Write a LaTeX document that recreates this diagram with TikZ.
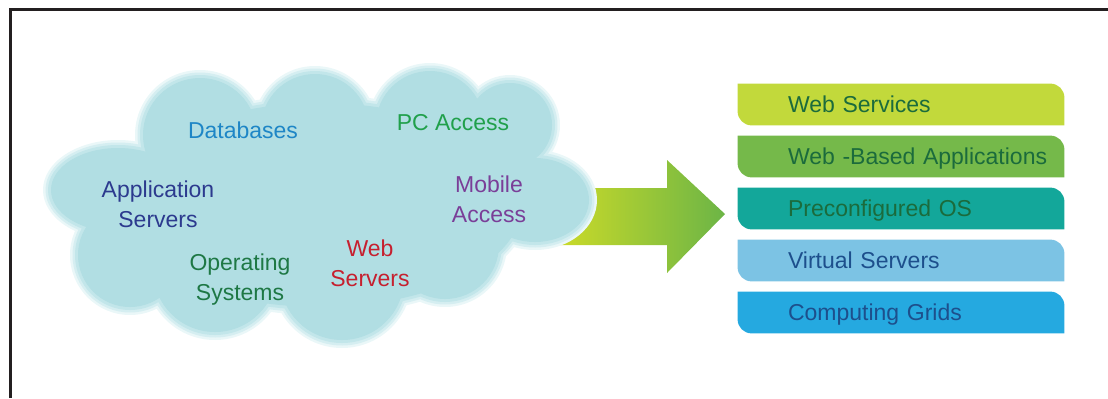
\documentclass[tikz,border=0pt]{standalone}
\usepackage{fontspec}
\setmainfont{Liberation Sans}
\usetikzlibrary{backgrounds}

\definecolor{framegray}{HTML}{231F20}
\definecolor{cloudmain}{HTML}{B1DEE3}
\definecolor{cloudsoft}{HTML}{C2E6EA}
\definecolor{cloudmid}{HTML}{D5EEF1}
\definecolor{cloudedge}{HTML}{EAF7F8}
\definecolor{arrowleft}{HTML}{CDDB28}
\definecolor{arrowright}{HTML}{6CB546}
\definecolor{bandA}{HTML}{C2D93B}
\definecolor{bandB}{HTML}{75B94A}
\definecolor{bandC}{HTML}{13A79A}
\definecolor{bandD}{HTML}{7CC3E4}
\definecolor{bandE}{HTML}{25A9E0}
\definecolor{txtdarkgreen}{HTML}{1B6B3C}
\definecolor{txtdarkblue}{HTML}{1D4F8C}
\definecolor{txtdb}{HTML}{1E86C6}
\definecolor{txtpc}{HTML}{20A04B}
\definecolor{txtapp}{HTML}{2C3A8E}
\definecolor{txtmob}{HTML}{7A3E98}
\definecolor{txtos}{HTML}{1E7845}
\definecolor{txtweb}{HTML}{C6202F}

% lobes of the cloud, #2 shrinks every lobe
\newcommand{\cloudlobes}[2]{%
\fill[#1] (118,208) ellipse ({75-#2} and {50-#2})
  (200,263) circle ({65-#2})
  (315,270) circle ({62-#2})
  (430,273) circle ({62-#2})
  (510,273) circle ({50-#2})
  (535,198) ellipse ({62-#2} and {50-#2})
  (445,153) circle ({62-#2})
  (342,120) circle ({70-#2})
  (215,128) circle ({70-#2})
  (130,143) circle ({60-#2})
  (320,193) ellipse ({210-#2} and {110-#2});}

\begin{document}
\begin{tikzpicture}[x=0.5pt,y=0.5pt,
  labelfont/.style={font=\fontsize{11.5}{15}\selectfont},
  cloudlabel/.style={labelfont, align=center, inner sep=0pt},
  band/.style={labelfont, minimum height=20.5pt, text width=138pt, inner xsep=0pt,
    inner ysep=0pt, align=left, text height=8.2pt, text depth=0pt}]
\useasboundingbox (0,0) rectangle (1108,398);

% frame
\draw[line width=1.5pt, framegray] (10,0) -- (10,388.5) -- (1108,388.5);

% arrow
\shade[left color=arrowleft, right color=arrowright]
  (555,210) -- (667,210) -- (667,238) -- (725,184) -- (667,125) -- (667,153) -- (555,153) -- cycle;

% cloud
\cloudlobes{cloudedge}{0}
\cloudlobes{cloudmid}{2.5}
\cloudlobes{cloudsoft}{5}
\cloudlobes{cloudmain}{8}

\node[cloudlabel, text=txtdb] (databases) at (243,268) {Databases};
\node[cloudlabel, text=txtpc] (pcaccess) at (453,275) {PC Access};
\node[cloudlabel, text=txtapp] (appservers) at (158,194) {Application\\Servers};
\node[cloudlabel, text=txtmob] (mobile) at (489,199) {Mobile\\Access};
\node[cloudlabel, text=txtos] (opsys) at (240,118) {Operating\\Systems};
\node[cloudlabel, text=txtweb] (webservers) at (370,135) {Web\\Servers};

% service bands
\foreach \n/\lbl/\bcol/\tcol [count=\i from 0] in
  {websvc/Web Services/bandA/txtdarkgreen,
   webapps/Web -Based Applications/bandB/txtdarkgreen,
   preos/Preconfigured OS/bandC/txtdarkgreen,
   virtsrv/Virtual Servers/bandD/txtdarkblue,
   grids/Computing Grids/bandE/txtdarkblue}{
  \node[band, text=\tcol] (\n) at (926,{293.5-52*\i}) {\lbl};
  \begin{scope}[on background layer]
  \fill[\bcol] ([xshift=-25pt]\n.north west) -- ([xshift=-7pt]\n.north east)
    arc[start angle=90, end angle=0, radius=7pt] -- (\n.south east)
    -- ([xshift=-18pt]\n.south west) arc[start angle=270, end angle=180, radius=7pt] -- cycle;
  \end{scope}
}
\end{tikzpicture}
\end{document}
